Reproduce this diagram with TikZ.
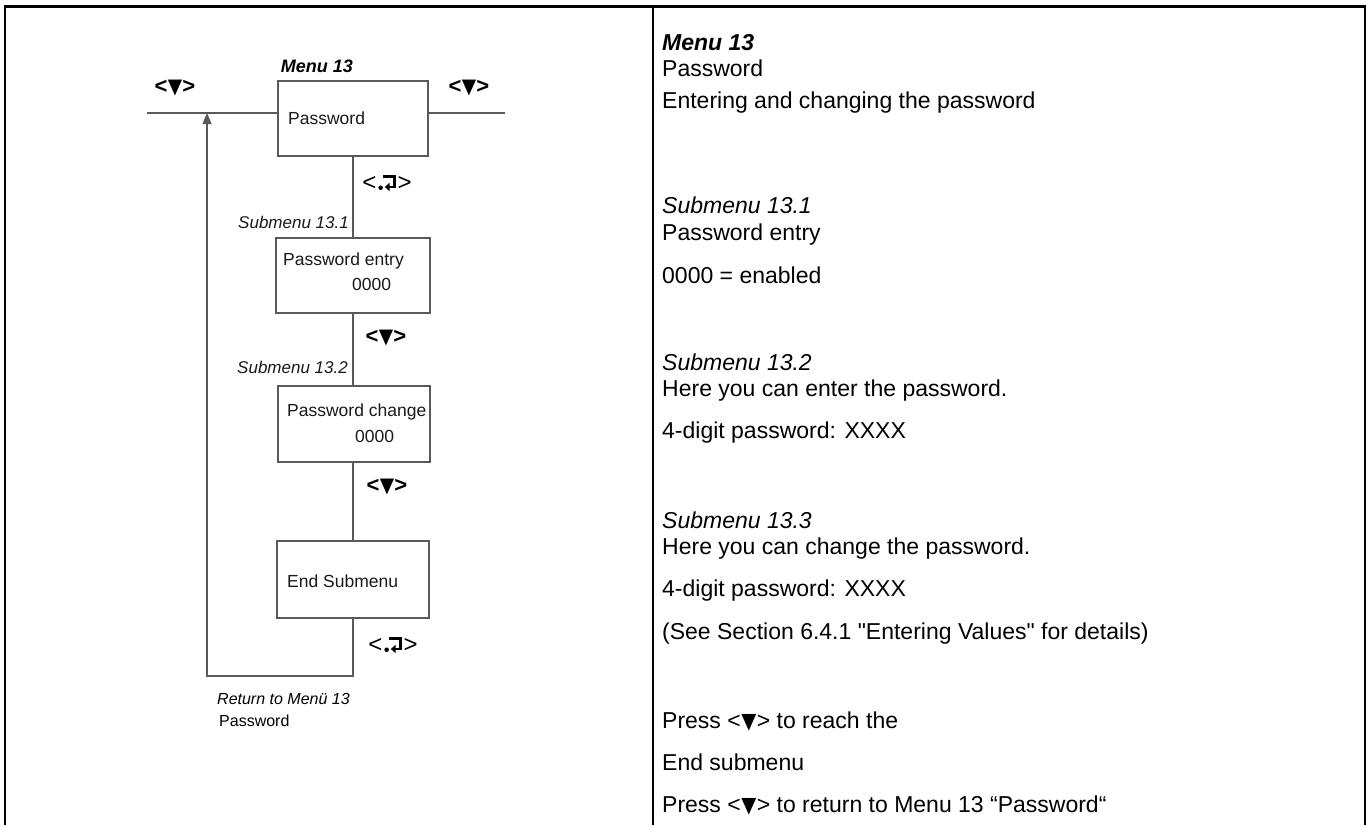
\documentclass[tikz,border=0pt]{standalone}
\usepackage{fontspec}
\setmainfont{Liberation Sans}
\newfontfamily\symfont{DejaVu Sans}
\newfontfamily\plainfont{Liberation Sans}
\usetikzlibrary{arrows.meta}
\newcommand{\sq}{{\plainfont "}}
\newcommand{\tri}{{\symfont\scalebox{0.85}[0.95]{▼}}}
\newcommand{\keytri}{<\kern0.3pt\tri\kern0.3pt>}
\newcommand{\retglyph}{\tikz[baseline=0pt,x=1.2pt,y=1.2pt,line width=0pt]{%
  \fill (2,2) circle (1.9);
  \fill (4,10) rectangle (14.5,12.8);
  \fill (12,12.8) rectangle (14.5,1.5);
  \fill (9,1.5) rectangle (14.5,3.8);
  \fill (5.5,2.65) -- (9.5,6.2) -- (9.5,-0.9) -- cycle;}}
\begin{document}
\begin{tikzpicture}[x=1pt,y=-1pt,
  frame/.style={line width=2.6pt, black},
  conn/.style={draw=black!65, line width=1.3pt},
  menubox/.style={draw=black!65, line width=1.3pt, rectangle, inner sep=0pt},
  boxtext/.style={anchor=base west, inner sep=0pt, font=\fontsize{17.5}{20}\selectfont, text=black!90},
  subl/.style={anchor=base east, inner sep=0pt, font=\fontsize{17}{20}\selectfont\itshape, text=black!90},
  keyl/.style={anchor=center, inner sep=0pt, font=\fontsize{22}{24}\selectfont\bfseries},
  retl/.style={anchor=center, inner sep=0pt, font=\fontsize{24}{26}\selectfont},
  rtext/.style={anchor=base west, inner sep=0pt, font=\fontsize{23}{26}\selectfont},
  rital/.style={rtext, font=\fontsize{23}{26}\selectfont\itshape},
  rbold/.style={rtext, font=\fontsize{23}{26}\selectfont\bfseries\itshape}]
\useasboundingbox (0,0) rectangle (1370,825);
% frame
\coordinate (ftl) at (5,6.5);
\coordinate (ftr) at (1365,6.5);
\coordinate (fbl) at (5,825);
\coordinate (fbr) at (1365,825);
\coordinate (dvt) at (653,6.5);
\coordinate (dvb) at (653,825);
\draw[frame] (fbl) -- (ftl) -- (ftr) -- (fbr);
\draw[frame] (dvt) -- (dvb);

% boxes
\node[menubox, minimum width=150, minimum height=75] (m13) at (353,118.5) {};
\node[menubox, minimum width=154, minimum height=75] (s1) at (353,275.5) {};
\node[menubox, minimum width=152, minimum height=76] (s2) at (354,424) {};
\node[menubox, minimum width=152, minimum height=77] (se) at (353,579.5) {};

% box texts
\node[boxtext] (t0) at (288,124) {Password};
\node[boxtext] (t1) at (283,265) {Password entry};
\node[boxtext] (t1b) at (352,290) {0000};
\node[boxtext] (t2) at (287,416) {Password change};
\node[boxtext] (t2b) at (355,442) {0000};
\node[boxtext] (t3) at (287,587) {End Submenu};

% labels
\node[anchor=base, inner sep=0pt, font=\fontsize{18}{20}\selectfont\bfseries\itshape] (menulab) at (317,72) {Menu 13};
\node[subl] (sl1) at (349,228) {Submenu 13.1};
\node[subl] (sl2) at (348,373) {Submenu 13.2};
\node[anchor=base west, inner sep=0pt, font=\fontsize{16}{19}\selectfont\itshape] (retl1) at (217,704) {Return to Menü 13};
\node[anchor=base west, inner sep=0pt, font=\fontsize{16}{19}\selectfont] (retl2) at (219,726) {Password};

% key labels
\node[keyl] (kl) at (175,88) {\keytri};
\node[keyl] (kr) at (469,88) {\keytri};
\node[keyl] (k2) at (386,338) {\keytri};
\node[keyl] (k3) at (387,487) {\keytri};
\node[retl] (k1) at (387,183) {<\hspace{2pt}\retglyph\hspace{2pt}>};
\node[retl] (k4) at (393,645) {<\hspace{2pt}\retglyph\hspace{2pt}>};

% connectors
\coordinate (lh) at (147,113);
\coordinate (rh) at (505,113);
\coordinate (loopbl) at (207,676);
\coordinate (ret) at (207,113);
\draw[conn] (lh) -- (lh -| m13.west);
\draw[conn] (rh -| m13.east) -- (rh);
\draw[conn] (m13.south) -- (s1.north);
\draw[conn] (s1.south) -- (s1.south |- s2.north);
\draw[conn] (s1.south |- s2.south) -- (s1.south |- se.north);
\draw[conn, -{Triangle[length=11pt,width=9pt]}] (se.south) |- (loopbl) -- (ret);

% right column
\node[rbold] (r1) at (662,50) {Menu 13};
\node[rtext] (r2) at (662,76) {Password};
\node[rtext] (r3) at (662,108) {Entering and changing the password};
\node[rital] (r4) at (662,213) {Submenu 13.1};
\node[rtext] (r5) at (662,240) {Password entry};
\node[rtext] (r6) at (662,283) {0000 = enabled};
\node[rital] (r7) at (662,370) {Submenu 13.2};
\node[rtext] (r8) at (662,396) {Here you can enter the password.};
\node[rtext] (r9) at (662,438) {4-digit password: XXXX};
\node[rital] (r10) at (662,528) {Submenu 13.3};
\node[rtext] (r11) at (662,554) {Here you can change the password.};
\node[rtext] (r12) at (662,596) {4-digit password: XXXX};
\node[rtext] (r13) at (662,639) {(See Section 6.4.1 \sq Entering Values\sq\ for details)};
\node[rtext] (r14) at (662,728) {Press <\kern0.5pt\tri\kern0.5pt> to reach the};
\node[rtext] (r15) at (662,770) {End submenu};
\node[rtext] (r16) at (662,812) {Press <\kern0.5pt\tri\kern0.5pt> to return to Menu 13 “Password“};
\end{tikzpicture}
\end{document}
